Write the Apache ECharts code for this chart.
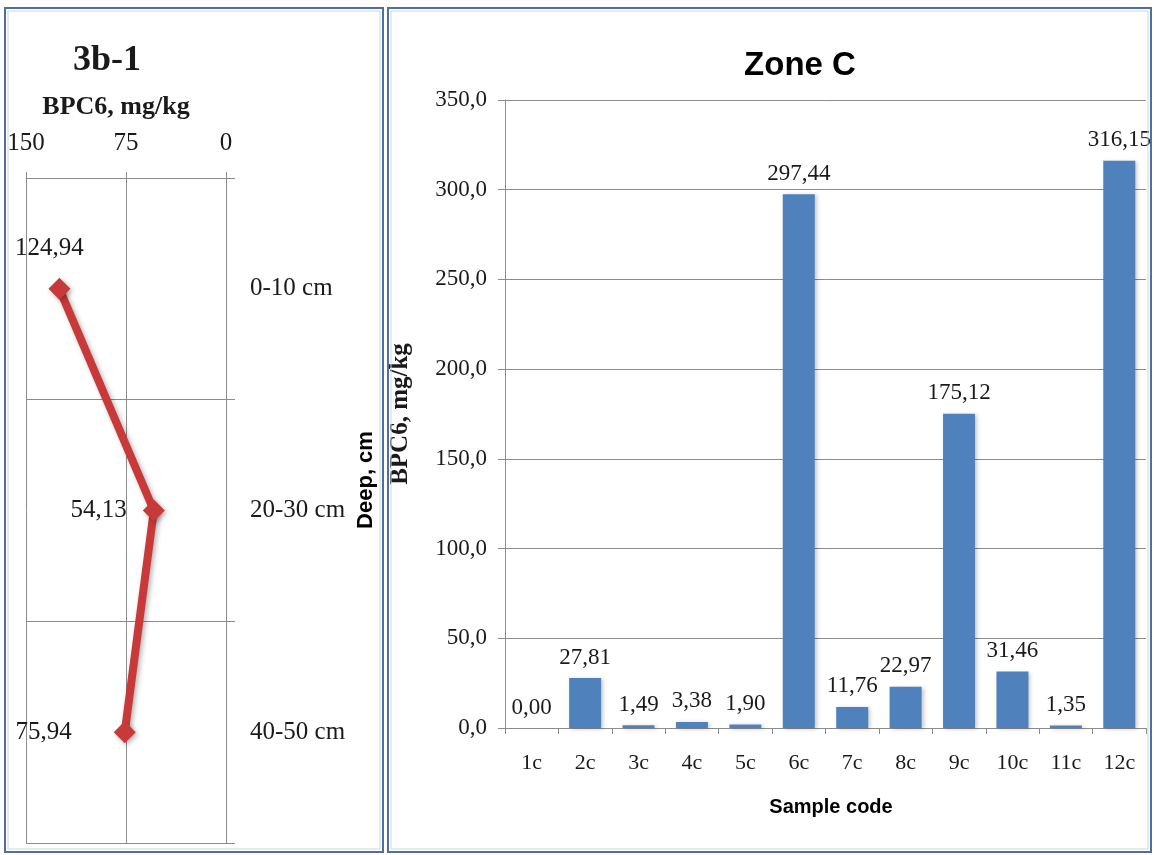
<!DOCTYPE html>
<html>
<head>
<meta charset="utf-8">
<title>BPC6 – 3b-1 profile and Zone C samples</title>
<script src="https://cdn.jsdelivr.net/npm/echarts@6/dist/echarts.min.js"></script>
<style>
  html, body { margin: 0; padding: 0; background: #ffffff; }
  #chart { width: 1154px; height: 855px; }
</style>
</head>
<body>
<div id="chart"></div>
<script>
// Profile 3b-1: BPC6 content by depth
const depthCategories = ['0-10 cm', '20-30 cm', '40-50 cm'];
const depthValues = [124.94, 54.13, 75.94];
const depthTicks = [0, 75, 150];

// Zone C: BPC6 content by sample
const sampleCodes = ['1c', '2c', '3c', '4c', '5c', '6c', '7c', '8c', '9c', '10c', '11c', '12c'];
const sampleValues = [0.00, 27.81, 1.49, 3.38, 1.90, 297.44, 11.76, 22.97, 175.12, 31.46, 1.35, 316.15];

const SERIF = '"Liberation Serif", "DejaVu Serif", serif';
const SANS = '"Liberation Sans", Arial, sans-serif';
const GRID_GREY = '#8c8c8c';
const TEXT = '#1a1a1a';

const comma = (v, d) => Number(v).toFixed(d).replace('.', ',');

// per-point label placement for the depth profile
const depthLabelStyle = [
  { position: 'top', offset: [-10, -12] },
  { position: 'left', distance: 16 },
  { position: 'left', distance: 42 }
];

const chart = echarts.init(document.getElementById('chart'), null, { renderer: 'canvas' });

chart.setOption({
  backgroundColor: '#ffffff',
  animation: false,
  title: [
    { text: '3b-1', left: 102, top: 38, textAlign: 'center',
      textStyle: { fontFamily: SERIF, fontWeight: 'bold', fontSize: 36, color: TEXT } },
    { text: 'BPC6, mg/kg', left: 111, top: 89, textAlign: 'center',
      textStyle: { fontFamily: SERIF, fontWeight: 'bold', fontSize: 26, color: TEXT } },
    { text: 'Zone C', left: 795, top: 44, textAlign: 'center',
      textStyle: { fontFamily: SANS, fontWeight: 'bold', fontSize: 33, color: '#000' } },
    { text: 'Sample code', left: 826, top: 792, textAlign: 'center',
      textStyle: { fontFamily: SANS, fontWeight: 'bold', fontSize: 20, color: '#000' } }
  ],
  graphic: [
    { type: 'rect', shape: { x: 5, y: 8, width: 378, height: 844 },
      style: { fill: 'none', stroke: '#4f6f9f', lineWidth: 2 }, z: 10 },
    { type: 'rect', shape: { x: 8, y: 11, width: 372, height: 838 },
      style: { fill: 'none', stroke: '#c9d6ea', lineWidth: 1 }, z: 10 },
    { type: 'rect', shape: { x: 388, y: 8, width: 763, height: 844 },
      style: { fill: 'none', stroke: '#4f6f9f', lineWidth: 2 }, z: 10 },
    { type: 'rect', shape: { x: 391, y: 11, width: 757, height: 838 },
      style: { fill: 'none', stroke: '#c9d6ea', lineWidth: 1 }, z: 10 },
    { type: 'text', x: 366, y: 480, rotation: Math.PI / 2,
      style: { text: 'Deep, cm', fontFamily: SANS, fontWeight: 'bold', fontSize: 22,
               fill: '#000', align: 'center', verticalAlign: 'middle' } }
  ],
  grid: [
    { left: 26, right: 1154 - 226, top: 178, bottom: 855 - 843 },
    { left: 505, right: 1154 - 1146, top: 100, bottom: 855 - 728 }
  ],
  xAxis: [
    {
      gridIndex: 0, type: 'value', position: 'top', inverse: true,
      min: depthTicks[0], max: depthTicks[depthTicks.length - 1], interval: 75,
      axisLine: { show: true, lineStyle: { color: GRID_GREY, width: 1 } },
      axisTick: { show: true, length: 6, lineStyle: { color: GRID_GREY } },
      axisLabel: { margin: 22, fontFamily: SERIF, fontSize: 25, color: TEXT },
      splitLine: { show: true, lineStyle: { color: GRID_GREY, width: 1 } }
    },
    {
      gridIndex: 1, type: 'category', data: sampleCodes, position: 'bottom',
      axisLine: { show: true, lineStyle: { color: GRID_GREY, width: 1 } },
      axisTick: { show: true, length: 6, alignWithLabel: false, lineStyle: { color: GRID_GREY } },
      axisLabel: { margin: 24, fontFamily: SERIF, fontSize: 22, color: TEXT },
      splitLine: { show: false }
    }
  ],
  yAxis: [
    {
      gridIndex: 0, type: 'category', data: depthCategories, position: 'right', inverse: true,
      axisLine: { show: true, lineStyle: { color: GRID_GREY, width: 1 } },
      axisTick: { show: true, length: 9, alignWithLabel: false, lineStyle: { color: GRID_GREY } },
      axisLabel: { margin: 24, fontFamily: SERIF, fontSize: 25, color: TEXT },
      splitLine: { show: true, lineStyle: { color: GRID_GREY, width: 1 } }
    },
    {
      gridIndex: 1, type: 'value', min: 0, max: 350, interval: 50,
      name: 'BPC6, mg/kg', nameLocation: 'middle', nameRotate: 90, nameGap: 92,
      nameTextStyle: { fontFamily: SERIF, fontWeight: 'bold', fontSize: 25, color: TEXT },
      axisLine: { show: true, lineStyle: { color: GRID_GREY, width: 1 } },
      axisTick: { show: true, length: 7, lineStyle: { color: GRID_GREY } },
      axisLabel: { margin: 18, fontFamily: SERIF, fontSize: 23, color: TEXT,
                   formatter: v => comma(v, 1) },
      splitLine: { show: true, lineStyle: { color: GRID_GREY, width: 1 } }
    }
  ],
  series: [
    {
      type: 'line', xAxisIndex: 0, yAxisIndex: 0,
      data: depthValues.map((v, i) => ({
        value: [v, depthCategories[i]],
        label: depthLabelStyle[i]
      })),
      symbol: 'diamond', symbolSize: 22,
      lineStyle: { color: '#c8393a', width: 8,
                   shadowColor: 'rgba(0,0,0,0.3)', shadowBlur: 5, shadowOffsetX: 2, shadowOffsetY: 2 },
      itemStyle: { color: '#c8393a',
                   shadowColor: 'rgba(0,0,0,0.3)', shadowBlur: 5, shadowOffsetX: 2, shadowOffsetY: 2 },
      label: {
        show: true, fontFamily: SERIF, fontSize: 25, color: TEXT,
        formatter: p => comma(p.value[0], 2)
      },
      z: 5
    },
    {
      type: 'bar', xAxisIndex: 1, yAxisIndex: 1,
      data: sampleValues,
      barWidth: 32,
      itemStyle: { color: '#4f81bd',
                   shadowColor: 'rgba(0,0,0,0.22)', shadowBlur: 4, shadowOffsetX: 2, shadowOffsetY: 1 },
      label: {
        show: true, position: 'top', distance: 9,
        fontFamily: SERIF, fontSize: 23, color: TEXT,
        formatter: p => comma(p.value, 2)
      }
    }
  ]
});
</script>
</body>
</html>
